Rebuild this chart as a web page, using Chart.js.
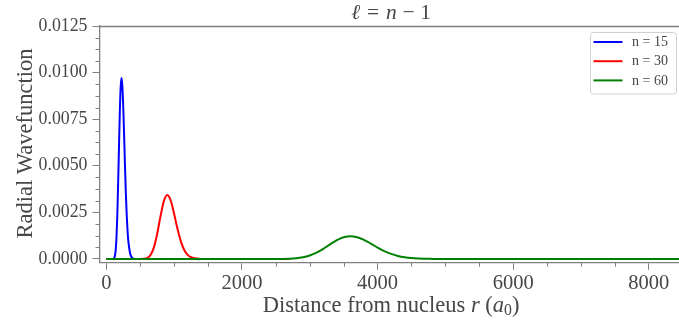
<!DOCTYPE html>
<html>
<head>
<meta charset="utf-8">
<script src="https://cdn.jsdelivr.net/npm/chart.js@4.4.1/dist/chart.umd.min.js"></script>
<style>
  html, body { margin: 0; padding: 0; background: #fff; overflow: hidden; width: 679px; height: 322px; }
  #wrap { width: 690px; height: 322px; }
</style>
</head>
<body>
<div id="wrap"><canvas id="c" width="690" height="322"></canvas></div>
<script>
// Radial probability density for l = n - 1 states, sampled along r (Bohr radii)
const r15 = [0, 50, 75, 100, 125, 137.5, 150, 162.5, 175, 187.5, 200, 212.5, 225, 237.5, 250, 262.5, 275, 287.5, 300, 312.5, 325, 350, 375, 400, 450, 900];
const p15 = [0, 0, 0, 0.000005, 0.000131, 0.00043, 0.00111, 0.00232, 0.00406, 0.00604, 0.00794, 0.00925, 0.00971, 0.00925, 0.00817, 0.00670, 0.00509, 0.00364, 0.00247, 0.00158, 0.00097, 0.00032, 0.00009, 0.00002, 0, 0];

const r30 = [0, 450, 500, 550, 600, 650, 700, 750, 800, 850, 900, 950, 1000, 1050, 1100, 1150, 1200, 1250, 1300, 1400, 1500, 2700];
const p30 = [0, 0, 0.000001, 0.000007, 0.000045, 0.000197, 0.000598, 0.001344, 0.002297, 0.003116, 0.00343, 0.003136, 0.002429, 0.001618, 0.000943, 0.000483, 0.000222, 0.000092, 0.000034, 0.000004, 0, 0];

const r60 = [0, 2400, 2600, 2800, 2900, 3000, 3100, 3200, 3300, 3400, 3500, 3600, 3700, 3800, 3900, 4000, 4100, 4200, 4300, 4400, 4500, 4600, 4800, 5000, 9000];
const p60 = [0, 0, 0.000004, 0.000037, 0.000089, 0.000187, 0.000341, 0.000547, 0.000782, 0.001007, 0.001167, 0.00122, 0.001163, 0.00102, 0.000825, 0.000612, 0.000422, 0.000272, 0.000164, 0.000093, 0.000049, 0.000024, 0.000005, 0, 0];

const seriesLabels = ['n = 15', 'n = 30', 'n = 60'];

const xTicks = [0, 2000, 4000, 6000, 8000];
const xMinor = [500, 1000, 1500, 2500, 3000, 3500, 4500, 5000, 5500, 6500, 7000, 7500];
const yTicks = [0, 0.0025, 0.005, 0.0075, 0.01, 0.0125];
const yMinor = [0.000625, 0.00125, 0.001875, 0.003125, 0.00375, 0.004375, 0.005625, 0.00625, 0.006875, 0.008125, 0.00875, 0.009375, 0.010625, 0.01125, 0.011875];

const FAM = "'Liberation Serif', 'DejaVu Serif', serif";
const AXIS = '#808080';
const TEXT = '#474747';

const pts = (xs, ys) => xs.map((v, i) => ({ x: v, y: ys[i] }));

// Draw a run of text pieces (roman / italic / subscript) centred on cx
function drawRich(ctx, parts, cx, by, size) {
  const fontOf = p => `${p.it ? 'italic ' : ''}${p.sub ? size * 0.7 : size}px ${FAM}`;
  let total = 0;
  const widths = parts.map(p => {
    if (p.gap) return p.gap * size;
    ctx.font = fontOf(p);
    return ctx.measureText(p.t).width;
  });
  widths.forEach(w => total += w);
  let x = cx - total / 2;
  ctx.textAlign = 'left';
  ctx.textBaseline = 'alphabetic';
  parts.forEach((p, i) => {
    if (!p.gap) {
      ctx.font = fontOf(p);
      ctx.fillText(p.t, x, by + (p.sub ? size * 0.15 : 0));
    }
    x += widths[i];
  });
}

const decor = {
  id: 'decor',
  afterDraw(chart) {
    const { ctx, chartArea: a, scales: { x, y } } = chart;
    ctx.save();
    ctx.strokeStyle = AXIS;
    ctx.lineWidth = 1.3;
    // top and right frame lines
    ctx.beginPath();
    ctx.moveTo(a.left, Math.round(a.top) + 0.5);
    ctx.lineTo(a.right, Math.round(a.top) + 0.5);
    ctx.moveTo(a.right, a.top);
    ctx.lineTo(a.right, a.bottom);
    ctx.stroke();
    // minor ticks
    ctx.lineWidth = 1;
    ctx.beginPath();
    xMinor.forEach(v => {
      const px = Math.round(x.getPixelForValue(v)) + 0.5;
      ctx.moveTo(px, a.bottom);
      ctx.lineTo(px, a.bottom + 4);
    });
    yMinor.forEach(v => {
      const py = Math.round(y.getPixelForValue(v)) + 0.5;
      ctx.moveTo(a.left - 4, py);
      ctx.lineTo(a.left, py);
    });
    ctx.stroke();

    ctx.fillStyle = TEXT;
    const cx = (a.left + a.right) / 2;
    // title
    drawRich(ctx, [
      { t: 'ℓ', it: 1 }, { gap: 0.32 }, { t: '=' }, { gap: 0.32 },
      { t: 'n', it: 1 }, { gap: 0.26 }, { t: '−' }, { gap: 0.26 }, { t: '1' }
    ], cx, 19, 21.5);
    // x axis title
    drawRich(ctx, [
      { t: 'Distance from nucleus ' }, { t: 'r', it: 1 }, { t: ' (' },
      { t: 'a', it: 1 }, { t: '0', sub: 1 }, { t: ')' }
    ], cx, 312, 22.5);
    // y axis title
    ctx.save();
    ctx.translate(32, 143.5);
    ctx.rotate(-Math.PI / 2);
    drawRich(ctx, [{ t: 'Radial Wavefunction' }], 0, 0, 22.5);
    ctx.restore();

    // legend box
    const bx = 590.5, bw = 86, byTop = 32.5, bh = 61.5;
    ctx.beginPath();
    ctx.roundRect(bx, byTop, bw, bh, 3);
    ctx.fillStyle = 'rgba(255,255,255,0.85)';
    ctx.fill();
    ctx.strokeStyle = '#d0d0d0';
    ctx.lineWidth = 1;
    ctx.stroke();
    chart.data.datasets.forEach((ds, i) => {
      const ly = 42 + i * 19.2;
      ctx.strokeStyle = ds.borderColor;
      ctx.lineWidth = 2;
      ctx.beginPath();
      ctx.moveTo(593.5, ly);
      ctx.lineTo(622.5, ly);
      ctx.stroke();
      ctx.fillStyle = TEXT;
      ctx.font = `14px ${FAM}`;
      ctx.textAlign = 'left';
      ctx.textBaseline = 'middle';
      ctx.fillText(ds.label, 632, ly + 0.5);
    });
    ctx.restore();
  }
};

new Chart(document.getElementById('c'), {
  type: 'line',
  data: {
    datasets: [
      { label: seriesLabels[0], data: pts(r15, p15), borderColor: '#0000ff', order: 3 },
      { label: seriesLabels[1], data: pts(r30, p30), borderColor: '#ff0000', order: 2 },
      { label: seriesLabels[2], data: pts(r60, p60), borderColor: '#008000', order: 1 }
    ]
  },
  options: {
    responsive: false,
    animation: false,
    devicePixelRatio: 1,
    layout: { padding: { left: 0, top: 26, right: 7.3, bottom: 0 } },
    elements: {
      line: { borderWidth: 2, cubicInterpolationMode: 'monotone', fill: false },
      point: { radius: 0, hoverRadius: 0 }
    },
    plugins: { legend: { display: false }, title: { display: false }, tooltip: { enabled: false } },
    scales: {
      x: {
        type: 'linear', min: -100, max: 8500,
        afterBuildTicks: s => { s.ticks = xTicks.map(v => ({ value: v })); },
        afterFit: s => { s.height = 59.3; },
        ticks: { font: { family: FAM, size: 20.5 }, color: TEXT, padding: 2, maxRotation: 0, autoSkip: false, callback: v => String(v) },
        grid: { drawOnChartArea: false, tickLength: 7, tickColor: AXIS, tickWidth: 1 },
        border: { display: true, color: AXIS, width: 1.3 }
      },
      y: {
        type: 'linear', min: -0.0002, max: 0.0125,
        afterBuildTicks: s => { s.ticks = yTicks.map(v => ({ value: v })); },
        afterFit: s => { s.width = 99.5; },
        ticks: { font: { family: FAM, size: 17.8 }, color: TEXT, padding: 5, autoSkip: false, callback: v => Number(v).toFixed(4) },
        grid: { drawOnChartArea: false, tickLength: 7, tickColor: AXIS, tickWidth: 1 },
        border: { display: true, color: AXIS, width: 1.3 }
      }
    }
  },
  plugins: [decor]
});
</script>
</body>
</html>
